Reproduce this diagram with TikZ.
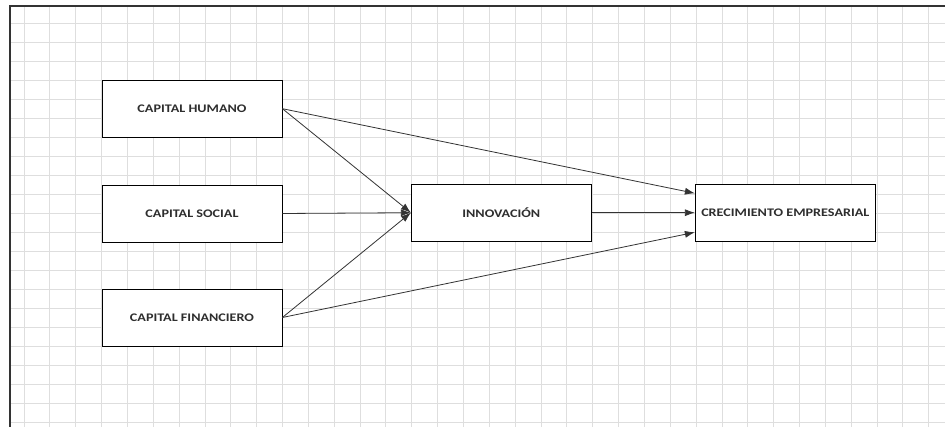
\documentclass[tikz,border=0pt]{standalone}
\usepackage{fontspec}
\newfontfamily\boxfont[FakeStretch=1.22]{Carlito}
\usetikzlibrary{arrows.meta,positioning}
\definecolor{gridgray}{HTML}{DEDEDE}
\definecolor{linegray}{HTML}{333333}
\definecolor{textgray}{HTML}{2E2E2E}

\begin{document}
\begin{tikzpicture}[
			x=1pt, y=1pt,
			box/.style = {draw=black, fill=white, line width=0.8pt,
				minimum width=180pt, minimum height=57pt, inner sep=0pt,
				font=\boxfont\bfseries\fontsize{11.6}{13}\selectfont, text=textgray},
			link/.style = {draw=linegray, line width=0.8pt, -{Latex[length=10pt,width=7pt]}},
			]
			\useasboundingbox (0,0) rectangle (945,427);
			\fill[white] (0,0) rectangle (945,427);
			% grid
			\foreach \k in {0,...,35}
				\draw[gridgray, line width=0.9pt] ({24+25.85*\k},0) -- ({24+25.85*\k},421);
			\foreach \k in {0,...,21}
				\draw[gridgray, line width=0.9pt] (10,{403.7-19*\k}) -- (945,{403.7-19*\k});
			\draw[linegray, line width=1.4pt] (10,0) -- (10,421) -- (945,421);
			% boxes
			\node[box] (humano) at (192,318.3) {CAPITAL HUMANO};
			\node[box] (social) at (192,213.5) {CAPITAL SOCIAL};
			\node[box] (financiero) at (192,109.5) {CAPITAL FINANCIERO};
			\node[box] (innovacion) at (501.3,214.3) {INNOVACIÓN};
			\node[box] (crecimiento) at (785.3,214.3) {CRECIMIENTO EMPRESARIAL};
			\coordinate (crecTop) at ([yshift=19.4pt]crecimiento.west);
			\coordinate (crecBot) at ([yshift=-19.6pt]crecimiento.west);
			% arrows
			\draw[link] (humano.east) -- (innovacion.west);
			\draw[link] (social.east) -- (innovacion.west);
			\draw[link] (financiero.east) -- (innovacion.west);
			\draw[link] (humano.east) -- (crecTop);
			\draw[link] (innovacion.east) -- (crecimiento.west);
			\draw[link] (financiero.east) -- (crecBot);
		\end{tikzpicture}
\end{document}
